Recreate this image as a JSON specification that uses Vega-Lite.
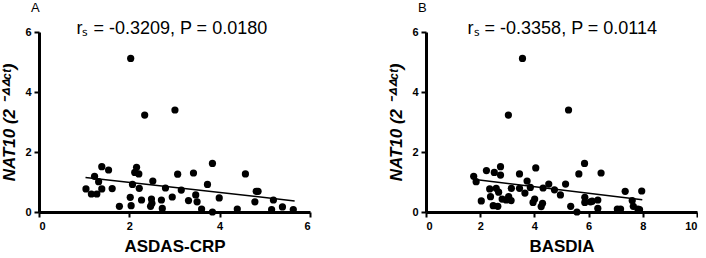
{
  "$schema": "https://vega.github.io/schema/vega-lite/v6.json",
  "background": "white",
  "padding": {"left": 0, "top": 2, "right": 0, "bottom": 0},
  "spacing": 76,
  "config": {
    "font": "Liberation Sans",
    "view": {"stroke": null},
    "axis": {
      "grid": false,
      "domainColor": "black",
      "domainWidth": 3,
      "tickColor": "black",
      "tickWidth": 2,
      "tickSize": 5,
      "labelFont": "Liberation Sans",
      "labelFontWeight": "bold",
      "labelFontSize": 11,
      "labelColor": "black",
      "labelPadding": 3,
      "titleFont": "Liberation Sans",
      "titleFontWeight": "bold",
      "titleFontSize": 17,
      "titleColor": "black"
    },
    "title": {
      "anchor": "start",
      "frame": "group",
      "font": "Liberation Sans",
      "fontSize": 13,
      "fontWeight": "normal",
      "color": "black",
      "dx": -8,
      "offset": 5
    }
  },
  "datasets": {
    "asdas": [
      {"asdas_crp": 1.04, "nat10": 0.77}, {"asdas_crp": 1.23, "nat10": 1.19}, {"asdas_crp": 1.16, "nat10": 0.60},
      {"asdas_crp": 1.28, "nat10": 0.60}, {"asdas_crp": 1.32, "nat10": 1.01}, {"asdas_crp": 1.39, "nat10": 1.51},
      {"asdas_crp": 1.39, "nat10": 0.77}, {"asdas_crp": 1.54, "nat10": 1.40}, {"asdas_crp": 1.62, "nat10": 0.78},
      {"asdas_crp": 1.78, "nat10": 0.19}, {"asdas_crp": 2.02, "nat10": 0.49}, {"asdas_crp": 2.04, "nat10": 0.21},
      {"asdas_crp": 2.03, "nat10": 5.12}, {"asdas_crp": 2.07, "nat10": 0.92}, {"asdas_crp": 2.12, "nat10": 1.32},
      {"asdas_crp": 2.16, "nat10": 1.49}, {"asdas_crp": 2.21, "nat10": 1.27}, {"asdas_crp": 2.22, "nat10": 0.79},
      {"asdas_crp": 2.27, "nat10": 0.40}, {"asdas_crp": 2.34, "nat10": 3.23}, {"asdas_crp": 2.49, "nat10": 0.43},
      {"asdas_crp": 2.52, "nat10": 1.03}, {"asdas_crp": 2.50, "nat10": 0.29}, {"asdas_crp": 2.47, "nat10": 0.19},
      {"asdas_crp": 2.71, "nat10": 0.40}, {"asdas_crp": 2.73, "nat10": 0.12}, {"asdas_crp": 2.80, "nat10": 0.80},
      {"asdas_crp": 2.95, "nat10": 0.50}, {"asdas_crp": 3.01, "nat10": 3.40}, {"asdas_crp": 3.07, "nat10": 1.26},
      {"asdas_crp": 3.15, "nat10": 0.73}, {"asdas_crp": 3.31, "nat10": 0.38}, {"asdas_crp": 3.42, "nat10": 1.30},
      {"asdas_crp": 3.47, "nat10": 0.57}, {"asdas_crp": 3.50, "nat10": 0.34}, {"asdas_crp": 3.60, "nat10": 0.10},
      {"asdas_crp": 3.73, "nat10": 0.92}, {"asdas_crp": 3.84, "nat10": 1.62}, {"asdas_crp": 3.84, "nat10": 0.00},
      {"asdas_crp": 3.99, "nat10": 0.47}, {"asdas_crp": 4.39, "nat10": 0.10}, {"asdas_crp": 4.57, "nat10": 1.27},
      {"asdas_crp": 4.78, "nat10": 0.34}, {"asdas_crp": 4.81, "nat10": 0.69}, {"asdas_crp": 4.85, "nat10": 0.69},
      {"asdas_crp": 5.15, "nat10": 0.08}, {"asdas_crp": 5.19, "nat10": 0.40}, {"asdas_crp": 5.39, "nat10": 0.17},
      {"asdas_crp": 5.63, "nat10": 0.08}
    ],
    "fit_asdas": [
      {"asdas_crp": 1.03, "nat10": 1.15}, {"asdas_crp": 5.66, "nat10": 0.37}
    ],
    "basdai": [
      {"basdia": 1.76, "nat10": 1.19}, {"basdia": 1.85, "nat10": 1.01}, {"basdia": 2.04, "nat10": 0.37},
      {"basdia": 2.23, "nat10": 1.38}, {"basdia": 2.35, "nat10": 0.77}, {"basdia": 2.38, "nat10": 0.51},
      {"basdia": 2.48, "nat10": 0.21}, {"basdia": 2.52, "nat10": 1.32}, {"basdia": 2.59, "nat10": 0.79},
      {"basdia": 2.65, "nat10": 0.19}, {"basdia": 2.68, "nat10": 0.66}, {"basdia": 2.75, "nat10": 1.51},
      {"basdia": 2.75, "nat10": 1.23}, {"basdia": 2.81, "nat10": 0.43}, {"basdia": 2.96, "nat10": 0.40},
      {"basdia": 3.04, "nat10": 3.23}, {"basdia": 3.05, "nat10": 0.51}, {"basdia": 3.14, "nat10": 0.38},
      {"basdia": 3.15, "nat10": 0.79}, {"basdia": 3.45, "nat10": 1.27}, {"basdia": 3.45, "nat10": 0.79},
      {"basdia": 3.56, "nat10": 5.12}, {"basdia": 3.65, "nat10": 0.63}, {"basdia": 3.73, "nat10": 1.03},
      {"basdia": 3.85, "nat10": 0.82}, {"basdia": 3.95, "nat10": 0.32}, {"basdia": 4.01, "nat10": 0.43},
      {"basdia": 4.05, "nat10": 1.47}, {"basdia": 4.25, "nat10": 0.18}, {"basdia": 4.30, "nat10": 0.29},
      {"basdia": 4.32, "nat10": 0.80}, {"basdia": 4.53, "nat10": 0.93}, {"basdia": 4.74, "nat10": 0.74},
      {"basdia": 4.96, "nat10": 0.57}, {"basdia": 5.15, "nat10": 0.93}, {"basdia": 5.26, "nat10": 3.40},
      {"basdia": 5.34, "nat10": 0.19}, {"basdia": 5.57, "nat10": 0.00}, {"basdia": 5.64, "nat10": 1.27},
      {"basdia": 5.85, "nat10": 1.62}, {"basdia": 5.86, "nat10": 0.49}, {"basdia": 5.86, "nat10": 0.32},
      {"basdia": 6.07, "nat10": 0.34}, {"basdia": 6.13, "nat10": 0.36}, {"basdia": 6.34, "nat10": 0.40},
      {"basdia": 6.34, "nat10": 0.12}, {"basdia": 6.46, "nat10": 1.30}, {"basdia": 7.06, "nat10": 0.10},
      {"basdia": 7.18, "nat10": 0.10}, {"basdia": 7.35, "nat10": 0.69}, {"basdia": 7.61, "nat10": 0.38},
      {"basdia": 7.65, "nat10": 0.19}, {"basdia": 7.82, "nat10": 0.10}, {"basdia": 7.88, "nat10": 0.08},
      {"basdia": 7.96, "nat10": 0.70}
    ],
    "fit_basdai": [
      {"basdia": 1.74, "nat10": 1.09}, {"basdia": 7.98, "nat10": 0.41}
    ],
    "stat_a": [{"label": "rₛ = -0.3209,  P = 0.0180"}],
    "stat_b": [{"label": "rₛ = -0.3358,  P = 0.0114"}]
  },
  "hconcat": [
    {
      "title": "A",
      "width": 271,
      "height": 180,
      "layer": [
        {
          "data": {"name": "asdas"},
          "mark": {"type": "circle", "size": 52, "color": "black", "opacity": 1},
          "encoding": {
            "x": {"field": "asdas_crp", "type": "quantitative", "scale": {"domain": [0, 6], "nice": false},
                  "axis": {"values": [0, 2, 4, 6], "title": "ASDAS-CRP", "titlePadding": 7}},
            "y": {"field": "nat10", "type": "quantitative", "scale": {"domain": [0, 6], "nice": false},
                  "axis": {"values": [0, 2, 4, 6], "title": "NAT10 (2 ⁻ᐞᐞᶜᵗ)", "titleFontStyle": "italic", "titlePadding": 6}}
          }
        },
        {
          "data": {"name": "fit_asdas"},
          "mark": {"type": "line", "color": "black", "strokeWidth": 1.5},
          "encoding": {
            "x": {"field": "asdas_crp", "type": "quantitative"},
            "y": {"field": "nat10", "type": "quantitative"}
          }
        },
        {
          "data": {"name": "stat_a"},
          "mark": {"type": "text", "font": "Liberation Sans", "fontSize": 18, "color": "black", "align": "center", "baseline": "alphabetic", "dy": 2},
          "encoding": {
            "x": {"datum": 2.94},
            "y": {"datum": 6},
            "text": {"field": "label"}
          }
        }
      ]
    },
    {
      "title": "B",
      "width": 271,
      "height": 180,
      "layer": [
        {
          "data": {"name": "basdai"},
          "mark": {"type": "circle", "size": 52, "color": "black", "opacity": 1},
          "encoding": {
            "x": {"field": "basdia", "type": "quantitative", "scale": {"domain": [0, 10], "nice": false},
                  "axis": {"values": [0, 2, 4, 6, 8, 10], "title": "BASDIA", "titlePadding": 7}},
            "y": {"field": "nat10", "type": "quantitative", "scale": {"domain": [0, 6], "nice": false},
                  "axis": {"values": [0, 2, 4, 6], "title": "NAT10 (2 ⁻ᐞᐞᶜᵗ)", "titleFontStyle": "italic", "titlePadding": 6}}
          }
        },
        {
          "data": {"name": "fit_basdai"},
          "mark": {"type": "line", "color": "black", "strokeWidth": 1.5},
          "encoding": {
            "x": {"field": "basdia", "type": "quantitative"},
            "y": {"field": "nat10", "type": "quantitative"}
          }
        },
        {
          "data": {"name": "stat_b"},
          "mark": {"type": "text", "font": "Liberation Sans", "fontSize": 18, "color": "black", "align": "center", "baseline": "alphabetic", "dy": 2},
          "encoding": {
            "x": {"datum": 5.03},
            "y": {"datum": 6},
            "text": {"field": "label"}
          }
        }
      ]
    }
  ]
}
